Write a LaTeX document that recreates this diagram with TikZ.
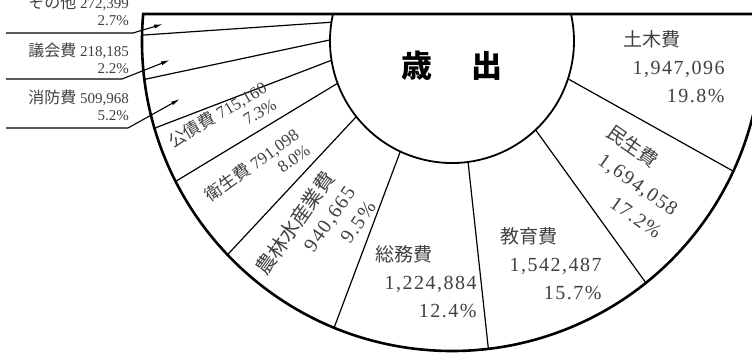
\documentclass[tikz,border=0pt]{standalone}
\usepackage{fontspec}
\setmainfont{Liberation Serif}
\newfontfamily\jp{Noto Sans CJK JP}
\newcommand{\kj}[2][19]{{\jp\fontsize{#1}{#1}\selectfont #2}}
\makeatletter
\newcommand{\ls}[1]{\@tfor\lsc:=#1\do{\lsc\kern1.5pt}\unkern}
\makeatother
\usetikzlibrary{arrows.meta}
\tikzset{
  borde/.style={line width=2.6pt},
  radio/.style={line width=1.2pt},
  etq/.style={text=black!75, align=right, inner sep=0pt, font=\fontsize{20}{28}\selectfont},
  etqm/.style={text=black!75, align=right, inner sep=0pt, font=\fontsize{17}{19}\selectfont},
  etqp/.style={text=black!75, align=right, inner sep=0pt, font=\fontsize{15}{17}\selectfont},
  flecha/.style={line width=1.1pt, -{Latex[length=9pt,width=4pt]}},
}
\begin{document}
\begin{tikzpicture}[x=1pt,y=-1pt]
\useasboundingbox (0,0) rectangle (752,354);
% Centros
\coordinate (c) at (452,41);
\coordinate (p) at (452,14);
\path (c) ++(185:310) coordinate (ol);
\path (c) ++(192.8:122) coordinate (il);

% Radios
\begin{scope}
  \clip (ol) arc[start angle=185,end angle=-5,radius=310] -- cycle;
  \foreach \a in {29.2,54.2,83.8,110.6,133.0,148.8,159.0,168.0,176.1}
    \draw[radio] (p) -- ++(\a:400);
\end{scope}

% Circulo interior
\fill[white] (il) arc[start angle=192.8,end angle=-12.8,radius=122] -- cycle;
\draw[line width=1.8pt] (il) arc[start angle=192.8,end angle=-12.8,radius=122];

% Borde
\draw[borde] (770,14) -- (ol) arc[start angle=185,end angle=-5,radius=310];

\node[font=\jp\bfseries\fontsize{31}{31}\selectfont] (tit) at (452,66) {歳\hspace{40pt}出};

% Etiquetas
\node[etq] (dob) at (674,67) {\kj{土木費}\hspace*{44pt}\\\ls{1,947,096}\\\ls{19.8\%}};
\node[etq,rotate=-35] (min) at (635,181) {\kj{民生費}\hspace*{44pt}\\\ls{1,694,058}\\\ls{17.2\%}};
\node[etq] (kyo) at (551,264) {\kj{教育費}\hspace*{44pt}\\\ls{1,542,487}\\\ls{15.7\%}};
\node[etq] (som) at (426,282) {\kj{総務費}\hspace*{44pt}\\\ls{1,224,884}\\\ls{12.4\%}};
\node[etq,rotate=55,font=\fontsize{20}{25}\selectfont] (nor) at (315,237) {\kj[20]{農林水産業費}\\\ls{940,665}\\\ls{9.5\%}};
\node[etqm,rotate=36] (eis) at (257,172) {\kj[17]{衛生費} 791,098\\8.0\%};
\node[etqm,rotate=31] (kos) at (222,122) {\kj[17]{公債費} 715,160\\7.3\%};

% Fuera
\node[etqp,anchor=east] (otr) at (129,10) {\kj[16]{その他} 272,399\\2.7\%};
\node[etqp,anchor=east] (gik) at (129,58) {\kj[16]{議会費} 218,185\\2.2\%};
\node[etqp,anchor=east] (sho) at (129,105) {\kj[16]{消防費} 509,968\\5.2\%};
\coordinate (fotr) at (163,24);
\coordinate (fgik) at (170,60);
\coordinate (fsho) at (180,99);
\draw[flecha] (6,33) -- (133,33) -- (fotr);
\draw[flecha] (6,79) -- (122,79) -- (fgik);
\draw[flecha] (6,128) -- (128,128) -- (fsho);
\end{tikzpicture}
\end{document}
